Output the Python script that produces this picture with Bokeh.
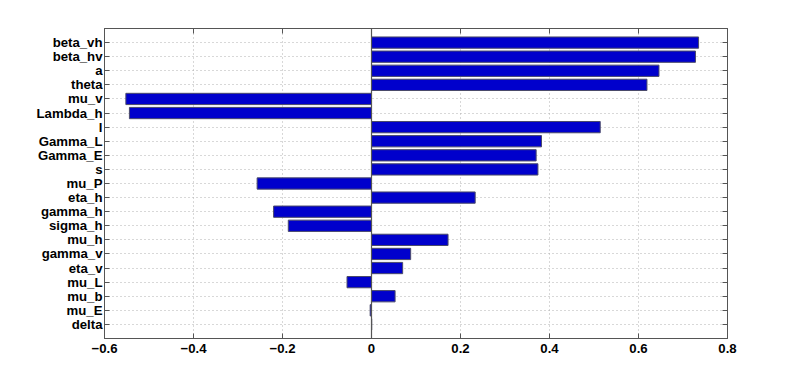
from bokeh.plotting import figure
from bokeh.models import LinearAxis, FixedTicker, Span, Range1d, ColumnDataSource
from bokeh.embed import file_html
from bokeh.resources import INLINE

# Data (top to bottom)
params = ["beta_vh", "beta_hv", "a", "theta", "mu_v", "Lambda_h", "l", "Gamma_L",
          "Gamma_E", "s", "mu_P", "eta_h", "gamma_h", "sigma_h", "mu_h", "gamma_v",
          "eta_v", "mu_L", "mu_b", "mu_E", "delta"]
values = [0.735, 0.728, 0.646, 0.619, -0.552, -0.544, 0.514, 0.382,
          0.370, 0.374, -0.257, 0.233, -0.220, -0.187, 0.172, 0.088,
          0.070, -0.055, 0.053, -0.003, 0.0005]
x_ticks = [-0.6, -0.4, -0.2, 0, 0.2, 0.4, 0.6, 0.8]
x_tick_labels = ["\u22120.6", "\u22120.4", "\u22120.2", "0", "0.2", "0.4", "0.6", "0.8"]

n = len(params)
ypos = [n - i for i in range(n)]
src = ColumnDataSource(dict(y=ypos, v=values, name=params))

p = figure(width=795, height=372, output_backend="svg", toolbar_location=None,
           x_range=Range1d(-0.6, 0.8), y_range=Range1d(0, n + 1),
           min_border_left=104, min_border_right=68, min_border_top=28,
           min_border_bottom=34, x_axis_location="below")

p.hbar(y="y", left=0, right="v", height=0.8, source=src,
       fill_color="#0000CC", line_color="#4a4a6a", line_width=1)

p.add_layout(Span(location=0, dimension="height", line_color="#555555", line_width=1.2))

font = "Liberation Sans"
axis_color = "#555555"

p.xaxis.ticker = FixedTicker(ticks=x_ticks)
p.xaxis.major_label_overrides = {t: l for t, l in zip(x_ticks, x_tick_labels)}
p.yaxis.ticker = FixedTicker(ticks=ypos)
p.yaxis.major_label_overrides = {y: nm for y, nm in zip(ypos, params)}

for ax in [p.xaxis[0], p.yaxis[0]]:
    ax.major_tick_in = 5
    ax.major_tick_out = 0
    ax.minor_tick_in = 0
    ax.minor_tick_out = 0
    ax.axis_line_color = axis_color
    ax.major_tick_line_color = axis_color
    ax.major_label_text_font = font
    ax.major_label_text_font_style = "bold"
    ax.major_label_text_font_size = "13.2px"
    ax.major_label_text_color = "black"
p.yaxis.major_label_standoff = 2
p.xaxis.major_label_standoff = 5

top = LinearAxis(ticker=FixedTicker(ticks=x_ticks),
                 major_label_overrides={t: "" for t in x_ticks},
                 major_tick_in=5, major_tick_out=0, minor_tick_in=0, minor_tick_out=0,
                 major_label_standoff=0,
                 axis_line_color=axis_color, major_tick_line_color=axis_color)
right = LinearAxis(ticker=FixedTicker(ticks=ypos),
                   major_label_overrides={y: "" for y in ypos},
                   major_tick_in=5, major_tick_out=0, minor_tick_in=0, minor_tick_out=0,
                   major_label_standoff=0,
                   axis_line_color=axis_color, major_tick_line_color=axis_color)
p.add_layout(top, "above")
p.add_layout(right, "right")

for g in [p.xgrid[0], p.ygrid[0]]:
    g.grid_line_color = "#b0b0b0"
    g.grid_line_dash = "1 3"
    g.grid_line_width = 1
p.ygrid.ticker = FixedTicker(ticks=ypos)
p.xgrid.ticker = FixedTicker(ticks=x_ticks)

p.outline_line_color = axis_color
p.background_fill_color = "white"
p.border_fill_color = "white"

open("out.html", "w").write(file_html(p, INLINE))
